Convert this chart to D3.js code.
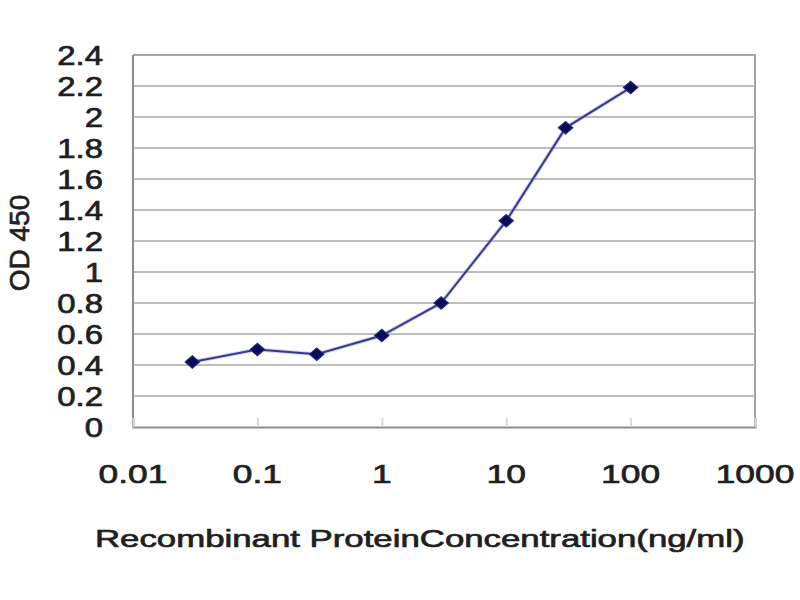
<!DOCTYPE html>
<html>
<head>
<meta charset="utf-8">
<script src="https://cdn.jsdelivr.net/npm/d3@7/dist/d3.min.js"></script>
<style>
  html, body { margin: 0; padding: 0; background: #ffffff; }
  svg { display: block; }
  text { font-family: "Liberation Sans", Arial, sans-serif; fill: #1f1f1f; stroke: #1f1f1f; stroke-width: 0.7px; }
</style>
</head>
<body>
<svg id="chart" width="800" height="600"></svg>
<script>
// ---- data ----
const concentrations = [0.03, 0.1, 0.3, 1, 3, 10, 30, 100];
const odValues = [0.42, 0.50, 0.47, 0.59, 0.80, 1.33, 1.93, 2.19];
const xTickValues = [0.01, 0.1, 1, 10, 100, 1000];
const xTickLabels = ["0.01", "0.1", "1", "10", "100", "1000"];
const yTickValues = [0, 0.2, 0.4, 0.6, 0.8, 1, 1.2, 1.4, 1.6, 1.8, 2, 2.2, 2.4];
const yTickLabels = ["0", "0.2", "0.4", "0.6", "0.8", "1", "1.2", "1.4", "1.6", "1.8", "2", "2.2", "2.4"];
const xTitle = "Recombinant ProteinConcentration(ng/ml)";
const yTitle = "OD 450";

// ---- layout ----
const pLeft = 133, pRight = 755, pTop = 55, pBottom = 427;
const svg = d3.select("#chart");

const x = d3.scaleLog().domain([0.01, 1000]).range([pLeft, pRight]);
const y = d3.scaleLinear().domain([0, 2.4]).range([pBottom, pTop]);

// plot background
svg.append("rect")
  .attr("x", pLeft).attr("y", pTop)
  .attr("width", pRight - pLeft).attr("height", pBottom - pTop)
  .attr("fill", "#ffffff");

// horizontal gridlines
svg.append("g")
  .selectAll("line")
  .data(yTickValues.filter(v => v > 0))
  .join("line")
  .attr("x1", pLeft).attr("x2", pRight)
  .attr("y1", d => y(d)).attr("y2", d => y(d))
  .attr("stroke", "#bdbdbd")
  .attr("stroke-width", 2.2);

// plot border (right + top)
svg.append("path")
  .attr("d", `M${pLeft},${pTop}H${pRight}V${pBottom}`)
  .attr("fill", "none")
  .attr("stroke", "#a6a6a6")
  .attr("stroke-width", 2);

// left axis line
svg.append("line")
  .attr("x1", pLeft).attr("x2", pLeft)
  .attr("y1", pTop).attr("y2", pBottom)
  .attr("stroke", "#8c8c8c").attr("stroke-width", 2);

// bottom axis via d3 axis (ticks pointing inside, faint)
const xAxis = d3.axisBottom(x).tickValues(xTickValues).tickSize(-9).tickFormat(() => "");
const gx = svg.append("g").attr("transform", `translate(0,${pBottom})`).call(xAxis);
gx.select(".domain").attr("stroke", "#8c8c8c").attr("stroke-width", 2);
gx.selectAll(".tick line").attr("stroke", "#d8d8d8").attr("stroke-width", 2);

// x tick labels (horizontally stretched like the reference)
const sxX = 1.36;
svg.append("g")
  .selectAll("text")
  .data(xTickValues)
  .join("text")
  .attr("transform", d => `translate(${x(d)},483) scale(${sxX},1)`)
  .attr("text-anchor", "middle")
  .attr("font-size", 26)
  .text((d, i) => xTickLabels[i]);

// y tick labels
const sxY = 1.22;
svg.append("g")
  .selectAll("text")
  .data(yTickValues)
  .join("text")
  .attr("transform", d => `translate(103,${y(d) + 9.5}) scale(${sxY},1)`)
  .attr("text-anchor", "end")
  .attr("font-size", 27)
  .text((d, i) => yTickLabels[i]);

// axis titles
svg.append("text")
  .attr("transform", `translate(95,547) scale(1.42,1)`)
  .attr("text-anchor", "start")
  .attr("font-size", 24.5)
  .text(xTitle);

svg.append("text")
  .attr("transform", `translate(29,243) rotate(-90)`)
  .attr("text-anchor", "middle")
  .attr("font-size", 28)
  .text(yTitle);

// data line
const pts = concentrations.map((c, i) => [c, odValues[i]]);
const line = d3.line().x(d => x(d[0])).y(d => y(d[1]));
svg.append("path")
  .datum(pts)
  .attr("d", line)
  .attr("fill", "none")
  .attr("stroke", "#9a9ae6")
  .attr("stroke-width", 4)
  .attr("stroke-opacity", 0.45);
svg.append("path")
  .datum(pts)
  .attr("d", line)
  .attr("fill", "none")
  .attr("stroke", "#3a3a8c")
  .attr("stroke-width", 2);

// diamond markers (wider than tall, as in the reference)
const diamond = d3.symbol().type(d3.symbolDiamond).size(110);
svg.append("g")
  .selectAll("path")
  .data(pts)
  .join("path")
  .attr("d", diamond)
  .attr("transform", d => `translate(${x(d[0])},${y(d[1])}) scale(1.3,0.65)`)
  .attr("fill", "#0b0b5c")
  .attr("stroke", "#2a2a80")
  .attr("stroke-width", 1);
</script>
</body>
</html>
